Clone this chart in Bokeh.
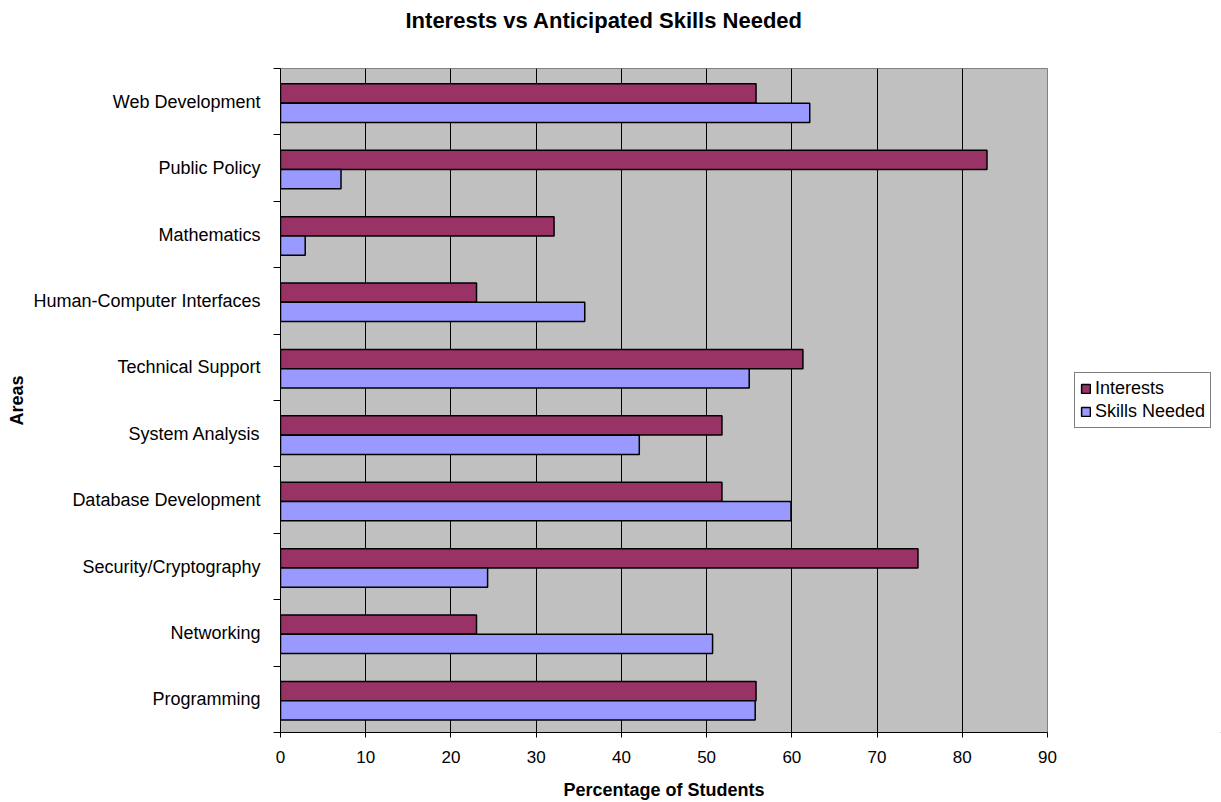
from bokeh.plotting import figure
from bokeh.layouts import row
from bokeh.models import ColumnDataSource, FixedTicker, Range1d, Legend, LegendItem, Title
from bokeh.embed import file_html
from bokeh.resources import INLINE

areas = ["Programming", "Networking", "Security/Cryptography", "Database Development",
         "System Analysis", "Technical Support", "Human-Computer Interfaces",
         "Mathematics", "Public Policy", "Web Development"]
interests = [55.8, 23.0, 74.8, 51.8, 51.8, 61.3, 23.0, 32.1, 82.9, 55.8]
skills_needed = [55.7, 50.7, 24.3, 59.9, 42.1, 55.0, 35.7, 2.9, 7.1, 62.1]
x_ticks = [0, 10, 20, 30, 40, 50, 60, 70, 80, 90]
series_names = ["Interests", "Skills Needed"]
series_colors = ["#993366", "#9999FF"]

FONT = "Liberation Sans"
W_MAIN, W_LEG, H = 1060, 161, 802

pos = list(range(len(areas)))
src = ColumnDataSource(dict(
    area=areas,
    interests=interests,
    skills=skills_needed,
    y_int=[i + 0.624 for i in pos],
    y_sk=[i + 0.333 for i in pos],
))

p = figure(width=W_MAIN, height=H, output_backend="svg", toolbar_location=None,
           x_range=Range1d(0, 90), y_range=Range1d(0, len(areas)),
           min_border_left=280, min_border_right=13, min_border_top=68, min_border_bottom=70,
           title="Interests vs Anticipated Skills Needed")

p.background_fill_color = "#C0C0C0"
p.border_fill_color = "white"
p.outline_line_color = "#808080"
p.outline_line_width = 1

r1 = p.hbar(y="y_int", right="interests", left=0, height=0.29, source=src,
            fill_color=series_colors[0], line_color="black", line_width=1.5)
r2 = p.hbar(y="y_sk", right="skills", left=0, height=0.29, source=src,
            fill_color=series_colors[1], line_color="black", line_width=1.5)

# grid
p.ygrid.grid_line_color = None
p.xgrid.grid_line_color = "black"
p.xgrid.grid_line_width = 1
p.xgrid.ticker = FixedTicker(ticks=x_ticks)

# x axis
p.xaxis.ticker = FixedTicker(ticks=x_ticks)
p.xaxis.axis_label = "Percentage of Students"
p.xaxis.axis_label_text_font = FONT
p.xaxis.axis_label_text_font_style = "bold"
p.xaxis.axis_label_text_font_size = "18px"
p.xaxis.axis_label_text_color = "black"
p.xaxis.axis_label_standoff = 14
p.xaxis.major_label_text_font = FONT
p.xaxis.major_label_text_font_size = "17px"
p.xaxis.major_label_text_color = "black"
p.xaxis.major_label_standoff = 13
p.xaxis.major_tick_out = 5
p.xaxis.major_tick_in = 0
p.xaxis.minor_tick_out = 0
p.xaxis.axis_line_color = "black"
p.xaxis.major_tick_line_color = "black"

# y axis: labels at category centres, tick marks at category boundaries
centers = [i + 0.5 for i in pos]
bounds = [float(i) for i in range(len(areas) + 1)]
p.yaxis.ticker = FixedTicker(ticks=centers, minor_ticks=bounds)
p.yaxis.major_label_overrides = {c: a for c, a in zip(centers, areas)}
p.yaxis.major_tick_out = 0
p.yaxis.major_tick_in = 0
p.yaxis.minor_tick_out = 7
p.yaxis.minor_tick_in = 0
p.yaxis.minor_tick_line_color = "black"
p.yaxis.axis_line_color = "black"
p.yaxis.major_label_text_font = FONT
p.yaxis.major_label_text_font_size = "18px"
p.yaxis.major_label_text_color = "black"
p.yaxis.major_label_standoff = 13
p.yaxis.axis_label = "Areas"
p.yaxis.axis_label_text_font = FONT
p.yaxis.axis_label_text_font_style = "bold"
p.yaxis.axis_label_text_font_size = "18px"
p.yaxis.axis_label_text_color = "black"
p.yaxis.axis_label_standoff = 3

# title
p.title.text_font = FONT
p.title.text_font_size = "22px"
p.title.text_font_style = "bold"
p.title.text_color = "black"
p.title.align = "left"
p.title.offset = 125
p.title.standoff = 10
# empty spacer between the title and the plot frame lifts the title to the top
spacer = Title(text=" ", text_font_size="22px", standoff=4)
p.above = [spacer] + list(p.above)

# legend lives in a small companion figure to the right
pl = figure(width=W_LEG, height=H, output_backend="svg", toolbar_location=None,
            x_range=Range1d(0, 1), y_range=Range1d(0, 1),
            x_axis_location=None, y_axis_location=None,
            min_border=0, outline_line_color=None)
pl.grid.visible = False
pl.background_fill_color = "white"
pl.border_fill_color = "white"
legend_renderers = []
for name, col in zip(series_names, series_colors):
    # proxy glyphs kept outside the visible range; only used for legend swatches
    legend_renderers.append(pl.hbar(y=[-5], right=[3], left=2, height=0.1,
                                    fill_color=col, line_color="black", line_width=1.5))

legend = Legend(items=[LegendItem(label=n, renderers=[r]) for n, r in zip(series_names, legend_renderers)],
                location=(14, 304))
legend.label_text_font = FONT
legend.label_text_font_size = "18px"
legend.label_text_color = "black"
legend.glyph_width = 11
legend.glyph_height = 11
legend.label_standoff = 4
legend.spacing = 2
legend.padding = 5
legend.margin = 0
legend.border_line_color = "black"
legend.border_line_width = 1
legend.background_fill_color = "white"
legend.label_height = 20
pl.add_layout(legend, "center")

layout = row(p, pl, spacing=0)
open("out.html", "w").write(file_html(layout, INLINE))
